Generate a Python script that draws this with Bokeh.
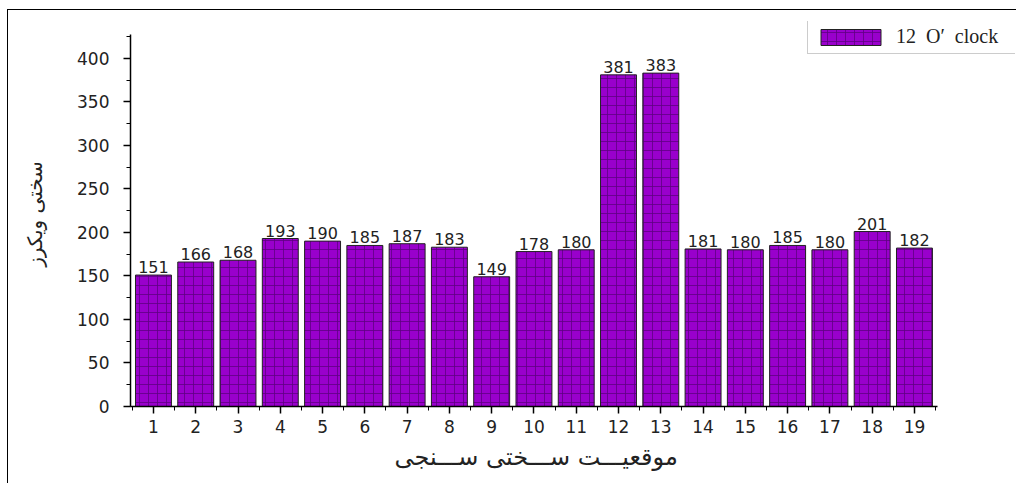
from bokeh.plotting import figure
from bokeh.models import ColumnDataSource, FixedTicker, Legend, LegendItem, Range1d, Title
from bokeh.embed import file_html
from bokeh.resources import INLINE
from bokeh.core.properties import value

positions = list(range(1, 20))
hardness = [151, 166, 168, 193, 190, 185, 187, 183, 149, 178, 180, 381, 383, 181, 180, 185, 180, 201, 182]
series_name = "12  O\u2032  clock"
x_title = "موقعیـــت ســـختی ســـنجی"
y_title = "سختی ویکرز"
y_ticks = list(range(0, 401, 50))
y_minor = list(range(0, 426, 25))
x_minor = [i + 0.5 for i in range(0, 20)]

src = ColumnDataSource(dict(x=positions, y=hardness, lab=[str(v) for v in hardness]))

p = figure(width=1009, height=474, output_backend="svg", toolbar_location=None,
           x_range=Range1d(0.457, 21.39), y_range=Range1d(0, 442.3),
           min_border_left=122, min_border_right=2, min_border_top=11, min_border_bottom=78)
p.styles = {"border-top": "1.5px solid black", "border-left": "1.5px solid black",
            "margin-left": "7px", "margin-top": "9px"}
p.outline_line_color = None
p.xgrid.visible = False
p.ygrid.visible = False

r = p.vbar(x="x", top="y", width=0.85, source=src, fill_color="#9900CC",
           line_color="#222222", line_width=1,
           hatch_pattern="+", hatch_color="#5c0080", hatch_scale=9, hatch_weight=0.9, hatch_alpha=0.85)

p.text(x="x", y="y", text="lab", source=src, text_align="center", text_baseline="bottom",
       y_offset=-2, text_font=value("DejaVu Sans"), text_font_size="16px", text_color="#222222")

for ax in (p.xaxis[0], p.yaxis[0]):
    ax.axis_line_width = 1.5
    ax.axis_line_color = "black"
    ax.major_tick_line_color = "black"
    ax.minor_tick_line_color = "black"
    ax.major_tick_line_width = 1.5
    ax.major_tick_in = 0
    ax.minor_tick_in = 0
    ax.major_tick_out = 7
    ax.minor_tick_out = 4
    ax.major_label_text_font = "DejaVu Sans"
    ax.major_label_text_font_size = "17px"
    ax.major_label_text_color = "#222222"
    ax.axis_label_text_font = "DejaVu Sans"
    ax.axis_label_text_font_style = "normal"
    ax.axis_label_text_font_size = "20px"
    ax.axis_label_text_color = "#222222"

p.xaxis[0].ticker = FixedTicker(ticks=positions, minor_ticks=x_minor)
p.xaxis[0].bounds = (0.457, 19.54)
p.xaxis[0].major_label_standoff = 6

p.yaxis[0].ticker = FixedTicker(ticks=y_ticks, minor_ticks=y_minor)
p.yaxis[0].bounds = (0, 427)
p.yaxis[0].axis_label = y_title
p.yaxis[0].major_label_standoff = 14
p.yaxis[0].axis_label_standoff = 27

xt = Title(text=x_title, align="left", offset=264, text_font="DejaVu Sans",
           text_font_style="normal", text_font_size="24px", text_color="#222222", standoff=11)
p.add_layout(xt, "below")

legend = Legend(items=[LegendItem(label=series_name, renderers=[r])],
                location=(677, 352), glyph_width=75, glyph_height=20,
                label_text_font="Liberation Serif", label_text_font_size="20px",
                label_text_color="#222222", border_line_color="#999999",
                padding=5, margin=0, label_standoff=8, label_width=116, spacing=0)
p.add_layout(legend, "center")

open("out.html", "w").write(file_html(p, INLINE))
